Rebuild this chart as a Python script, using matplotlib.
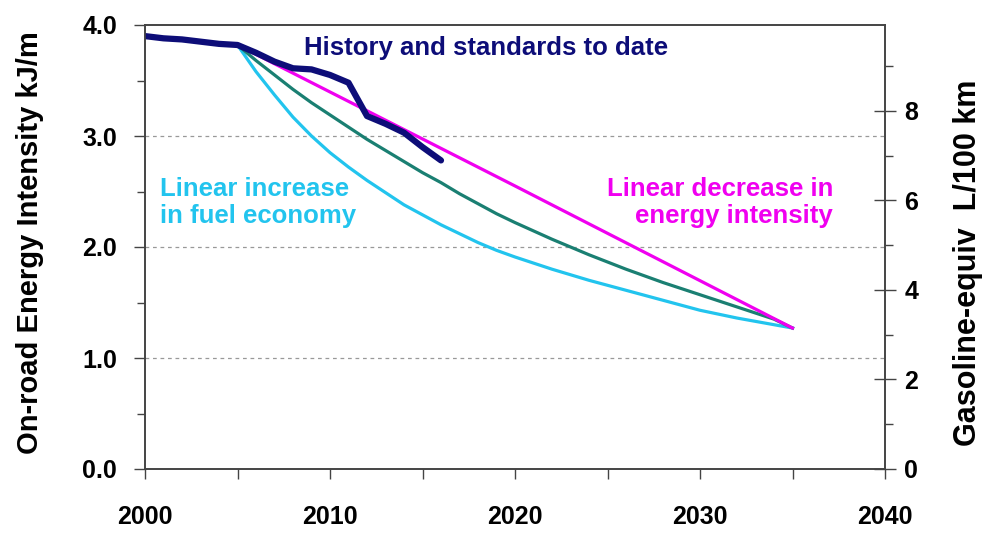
import numpy as np
import matplotlib
matplotlib.use("Agg")
import matplotlib.pyplot as plt
import matplotlib.ticker as mtick

plt.rcParams["font.family"] = ["Liberation Sans", "DejaVu Sans"]
plt.rcParams["font.weight"] = "bold"

# History and standards to date (kJ/m)
hist_years = [2000, 2001, 2002, 2003, 2004, 2005, 2006, 2007, 2008, 2009,
              2010, 2011, 2012, 2013, 2014, 2015, 2016]
hist_vals = [3.90, 3.88, 3.87, 3.85, 3.83, 3.82, 3.75, 3.67, 3.61, 3.60,
             3.55, 3.48, 3.18, 3.11, 3.03, 2.90, 2.78]

# Scenario years 2005-2035
scen_years = [2005, 2006, 2007, 2008, 2009, 2010, 2011, 2012, 2013, 2014,
              2015, 2016, 2017, 2018, 2019, 2020, 2022, 2024, 2026, 2028,
              2030, 2032, 2034, 2035]
# Linear increase in fuel economy (light blue)
fuel_econ_vals = [3.82, 3.58, 3.37, 3.17, 3.00, 2.85, 2.72, 2.60, 2.49, 2.38,
                  2.29, 2.20, 2.12, 2.04, 1.97, 1.91, 1.80, 1.70, 1.61, 1.52,
                  1.43, 1.36, 1.30, 1.27]
# middle path (teal)
middle_vals = [3.82, 3.68, 3.55, 3.42, 3.30, 3.19, 3.08, 2.97, 2.87, 2.77,
               2.67, 2.58, 2.48, 2.39, 2.30, 2.22, 2.07, 1.93, 1.80, 1.68,
               1.57, 1.46, 1.35, 1.27]
# Linear decrease in energy intensity (magenta)
lin_years = [2005, 2020, 2035]
lin_vals = [3.82, 2.55, 1.27]

# L/100 km per kJ/m
GASOLINE_FACTOR = 2.48

NAVY = "#0d0d78"
CYAN = "#22c4ee"
TEAL = "#1a7f72"
MAGENTA = "#f000f0"
FS = 18
NOTE_FS = 18.5

fig = plt.figure(figsize=(10.01, 5.33), dpi=100)
ax = fig.add_axes([145 / 1001, 1 - 469 / 533, 740 / 1001, 444 / 533])

ax.plot(scen_years, fuel_econ_vals, color=CYAN, lw=2.3, zorder=3)
ax.plot(scen_years, middle_vals, color=TEAL, lw=2.3, zorder=3)
ax.plot(lin_years, lin_vals, color=MAGENTA, lw=2.3, zorder=3)
ax.plot(hist_years, hist_vals, color=NAVY, lw=4.5, zorder=4,
        solid_capstyle="round", solid_joinstyle="round")

ax.set_xlim(2000, 2040)
ax.set_ylim(0, 4.0)
ax.xaxis.set_major_locator(mtick.MultipleLocator(10))
ax.xaxis.set_minor_locator(mtick.MultipleLocator(5))
ax.yaxis.set_major_locator(mtick.MultipleLocator(1.0))
ax.yaxis.set_minor_locator(mtick.MultipleLocator(0.5))
ax.yaxis.set_major_formatter(mtick.FormatStrFormatter("%.1f"))
for yv in [1.0, 2.0, 3.0]:
    ax.axhline(yv, color="#999999", lw=0.9, ls=(0, (3, 3)), zorder=1)

ax.tick_params(axis="x", which="major", direction="out", length=7, width=1,
               pad=19, labelsize=FS, color="#444444")
ax.tick_params(axis="x", which="minor", direction="out", length=7, width=1,
               color="#444444")
ax.tick_params(axis="y", which="major", direction="out", length=8, width=1,
               pad=12, labelsize=FS, color="#444444")
ax.tick_params(axis="y", which="minor", direction="out", length=6, width=1,
               color="#444444")
for lab in ax.get_xticklabels() + ax.get_yticklabels():
    lab.set_fontweight("bold")
for sp in ax.spines.values():
    sp.set_color("#444444")
    sp.set_linewidth(1.2)

ax.set_ylabel("On-road Energy Intensity kJ/m", fontsize=21, fontweight="bold")
ax.yaxis.set_label_coords(-0.137, 0.51)

ax2 = ax.twinx()
ax2.set_ylim(0, 4.0 * GASOLINE_FACTOR)
ax2.yaxis.set_major_locator(mtick.MultipleLocator(2))
ax2.yaxis.set_minor_locator(mtick.MultipleLocator(1))
ax2.yaxis.set_major_formatter(mtick.FormatStrFormatter("%i"))
ax2.tick_params(axis="y", which="major", direction="inout", length=16, width=1,
                pad=6, labelsize=FS, color="#444444")
ax2.tick_params(axis="y", which="minor", direction="out", length=6, width=1,
                color="#444444")
for lab in ax2.get_yticklabels():
    lab.set_fontweight("bold")
for sp in ax2.spines.values():
    sp.set_color("#444444")
    sp.set_linewidth(1.2)
ax2.set_ylabel("Gasoline-equiv  L/100 km", fontsize=22, fontweight="bold")
ax2.yaxis.set_label_coords(1.092, 0.465)

ax.text(2008.6, 3.79, "History and standards to date", color=NAVY,
        fontsize=NOTE_FS, fontweight="bold", ha="left", va="center")
ax.text(2000.8, 2.40, "Linear increase\nin fuel economy", color=CYAN,
        fontsize=NOTE_FS, fontweight="bold", ha="left", va="center",
        linespacing=1.2)
ax.text(2037.2, 2.40, "Linear decrease in\nenergy intensity", color=MAGENTA,
        fontsize=NOTE_FS, fontweight="bold", ha="right", va="center",
        linespacing=1.2)

fig.savefig("out.png", dpi=100)
